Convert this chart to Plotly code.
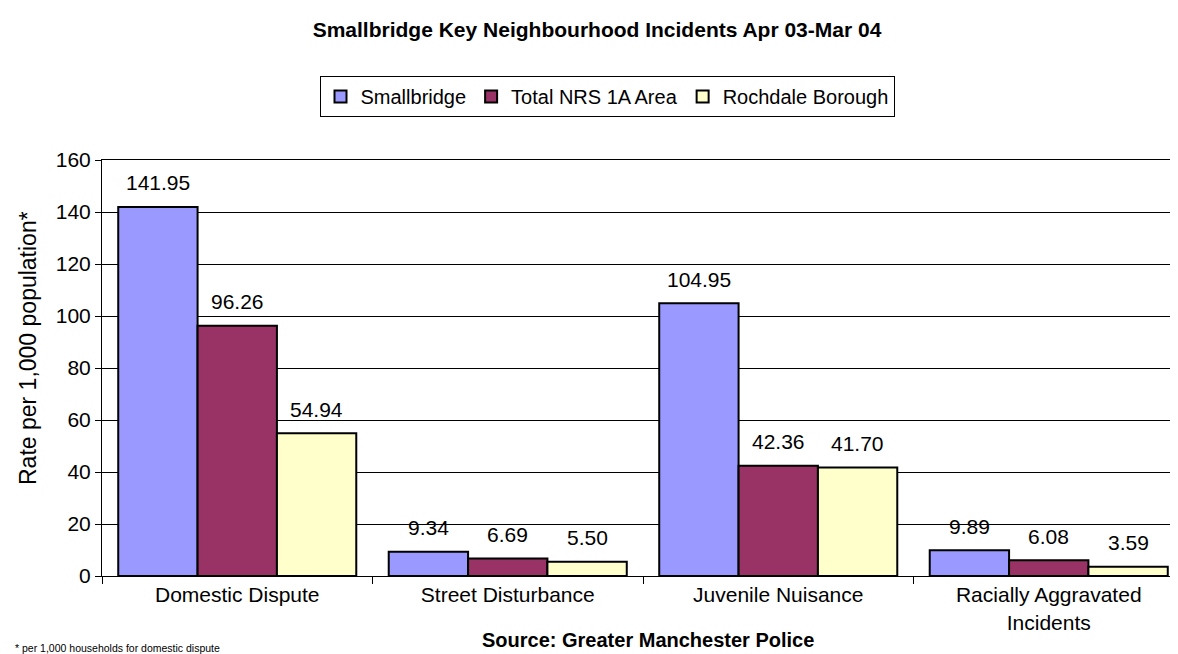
import plotly.graph_objects as go

# data
categories = ["Domestic Dispute", "Street Disturbance", "Juvenile Nuisance",
              "Racially Aggravated<br>Incidents"]
series_names = ["Smallbridge", "Total NRS 1A Area", "Rochdale Borough"]
smallbridge = [141.95, 9.34, 104.95, 9.89]
nrs_1a = [96.26, 6.69, 42.36, 6.08]
rochdale = [54.94, 5.50, 41.70, 3.59]
y_ticks = [0, 20, 40, 60, 80, 100, 120, 140, 160]

colors = ["#9999FF", "#993366", "#FFFFCC"]
FONT = "Liberation Sans, Arial, sans-serif"
FS = 21

W, H = 1178, 654
M = dict(l=94, r=2, t=152, b=86, autoexpand=False)
BARGAP = 0.12
plot_w = W - M["l"] - M["r"]
plot_h = H - M["t"] - M["b"]
bar_px = plot_w / len(categories) * (1 - BARGAP) / len(series_names)


def px_x(x):
    return (x - M["l"]) / plot_w


def px_y(y):
    return (M["t"] + plot_h - y) / plot_h


fig = go.Figure()
annotations = []
for k, (name, vals, col) in enumerate(zip(series_names, [smallbridge, nrs_1a, rochdale], colors)):
    fig.add_trace(go.Bar(
        x=categories, y=vals, name=name,
        marker=dict(color=col, line=dict(color="black", width=2)),
    ))
    # value labels sit well above the bar tops, Excel-style
    for cat, v in zip(categories, vals):
        annotations.append(dict(
            x=cat, y=v, xref="x", yref="y", text=f"{v:.2f}", showarrow=False,
            xshift=(k - 1) * bar_px, yshift=24, yanchor="middle",
            font=dict(family=FONT, size=FS, color="black"),
        ))

annotations += [
    dict(xref="paper", yref="paper", x=px_x(20), y=px_y(340), textangle=-90,
         xanchor="center", yanchor="middle", showarrow=False,
         text="Rate per 1,000 population*",
         font=dict(family=FONT, size=23, color="black")),
    dict(xref="paper", yref="paper", x=px_x(5), y=px_y(640),
         xanchor="left", yanchor="middle", showarrow=False,
         text="* per 1,000 households for domestic dispute",
         font=dict(family=FONT, size=10.5, color="black")),
    dict(xref="paper", yref="paper", x=px_x(640), y=px_y(632),
         xanchor="center", yanchor="middle", showarrow=False,
         text="<b>Source: Greater Manchester Police</b>",
         font=dict(family=FONT, size=20, color="black")),
]

fig.update_layout(
    width=W, height=H, margin=M,
    paper_bgcolor="white", plot_bgcolor="white",
    barmode="group", bargap=BARGAP, bargroupgap=0,
    font=dict(family=FONT, size=FS, color="black"),
    title=dict(
        text="<b>Smallbridge Key Neighbourhood Incidents Apr 03-Mar 04</b>",
        x=0.5, xref="container", xanchor="center", y=1 - 22 / H, yanchor="middle",
        font=dict(family=FONT, size=21, color="black"),
    ),
    legend=dict(
        orientation="h", x=px_x(599), xanchor="center",
        y=px_y(68), yanchor="top",
        bordercolor="black", borderwidth=1, bgcolor="white",
        font=dict(family=FONT, size=20, color="black"),
        itemwidth=30, tracegroupgap=0,
    ),
    annotations=annotations,
    showlegend=True,
)
fig.update_xaxes(
    type="category", showline=True, linecolor="black", linewidth=1, mirror=True,
    ticks="outside", tickson="boundaries", ticklen=7, tickcolor="black",
    showgrid=False, tickfont=dict(family=FONT, size=FS), automargin=False,
)
fig.update_yaxes(
    range=[0, 160], tickvals=y_ticks, showline=True, linecolor="black", linewidth=1,
    mirror=True, ticks="outside", ticklen=6, tickcolor="black",
    showgrid=True, gridcolor="black", gridwidth=1, zeroline=False,
    tickfont=dict(family=FONT, size=FS), automargin=False,
)

fig.write_html("out.html")
